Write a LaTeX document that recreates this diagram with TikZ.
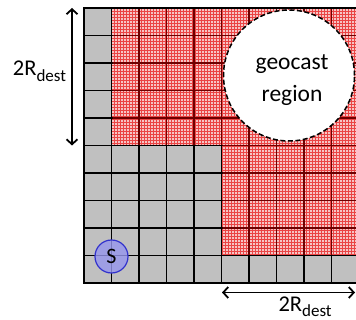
\documentclass[tikz,border=0pt]{standalone}
\usepackage{fontspec}
\setmainfont{Carlito}
\usetikzlibrary{arrows.meta}
\definecolor{cellgray}{RGB}{192,192,192}
\definecolor{zonepink}{RGB}{246,196,196}
\definecolor{zonered}{RGB}{234,68,68}
\definecolor{zoneline}{RGB}{110,0,0}
\definecolor{srcfill}{RGB}{150,150,238}
\definecolor{srcedge}{RGB}{50,50,205}
\tikzset{
  gridline/.style={line width=1.2pt, black},
  hatchline/.style={line width=0.9pt, zonered},
  borderline/.style={line width=1.7pt, black},
  dimarrow/.style={line width=1.8pt, {Straight Barb[length=5pt,width=11pt]}-{Straight Barb[length=5pt,width=11pt]}},
  dimlabel/.style={inner sep=0pt, anchor=base west, font=\fontsize{22.5}{24}\selectfont},
  regiontext/.style={inner sep=0pt, anchor=base, font=\fontsize{23.5}{28}\selectfont},
}
\newcommand{\dimtext}{2R\raisebox{-5.5pt}{\fontsize{17}{18}\selectfont dest}}
\begin{document}
\begin{tikzpicture}[x={(1pt,0pt)}, y={(0pt,-1pt)}]
  \useasboundingbox (0,0) rectangle (356,320);
  \begin{scope}
    \clip (0,0) rectangle (356,320);
    % cells of the 10x10 grid
    \fill[cellgray] (84,8) rectangle (359,283);
    % cells reached by forwarding: top band and lower right block, cross-hatched
    \begin{scope}
      \clip (111.5,8) rectangle (359,145.5) (221.5,145.5) rectangle (359,255.5);
      \fill[zonepink] (111.5,8) rectangle (359,255.5);
      \foreach \k in {0,...,83} {
        \draw[hatchline] ({111.5+3*\k},8) -- ({111.5+3*\k},256);
      }
      \foreach \k in {0,...,83} {
        \draw[hatchline] (111.5,{8+3*\k}) -- (359,{8+3*\k});
      }
    \end{scope}
    % grid lines
    \foreach \i in {0,...,10} {
      \draw[gridline] ({84+27.5*\i},8) -- ({84+27.5*\i},283);
      \draw[gridline] (84,{8+27.5*\i}) -- (359,{8+27.5*\i});
    }
    % darker lines inside the red zone
    \begin{scope}
      \clip (112.6,9) rectangle (359,144.9) (222.6,144.9) rectangle (359,254.9);
      \foreach \i in {0,...,10} {
        \draw[gridline, zoneline] ({84+27.5*\i},8) -- ({84+27.5*\i},283);
        \draw[gridline, zoneline] (84,{8+27.5*\i}) -- (359,{8+27.5*\i});
      }
    \end{scope}
    % outer border
    \draw[borderline] (359,8) -- (84,8) -- (84,283) -- (359,283);
    % geocast region
    \node[circle, draw=black, fill=white, line width=1.5pt, dash pattern=on 5pt off 2.5pt,
          minimum size=131pt, inner sep=0pt] (region) at (289,75.5) {};
    \node[regiontext] (geo1) at (292,69.3) {geocast};
    \node[regiontext] (geo2) at (292,101.7) {region};
    % source node
    \node[circle, draw=srcedge, fill=srcfill, fill opacity=0.8, text opacity=1, line width=1.2pt,
          minimum size=33pt, inner sep=0pt, font=\fontsize{22}{22}\selectfont] (src) at (111.5,256.5) {S};
    % dimension arrows
    \coordinate (vtop) at (72,8);
    \coordinate (vbot) at (72,145.5);
    \coordinate (hleft) at (222,292.5);
    \coordinate (hright) at (355,292.5);
    \draw[dimarrow] (vtop) -- (vbot);
    \draw[dimarrow] (hleft) -- (hright);
    \node[dimlabel] (vlab) at (12.7,75.7) {\dimtext};
    \node[dimlabel] (hlab) at (278.3,311.5) {\dimtext};
  \end{scope}
\end{tikzpicture}
\end{document}
